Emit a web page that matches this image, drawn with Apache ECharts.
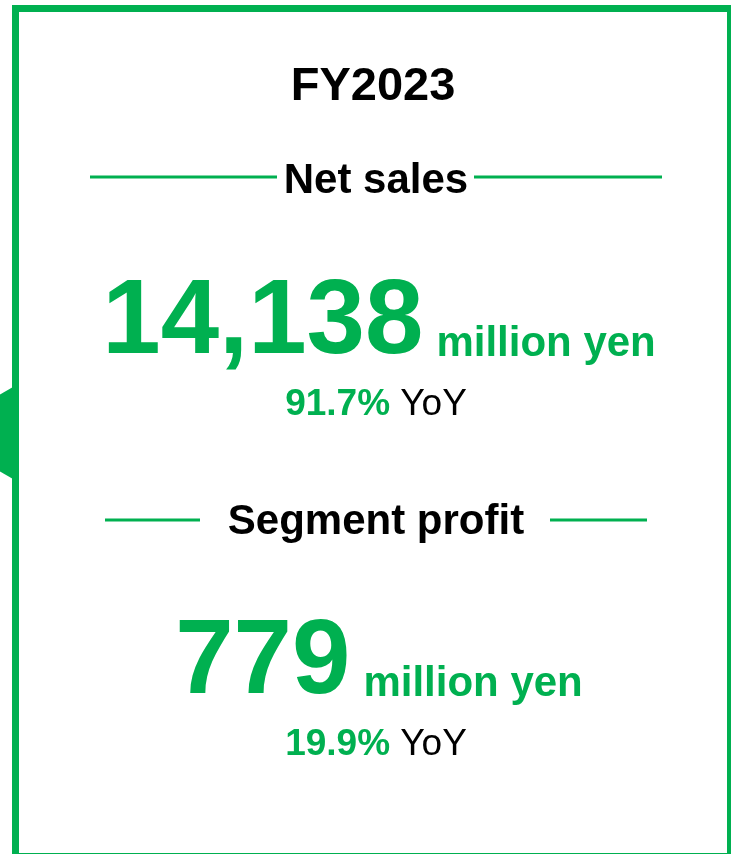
<!DOCTYPE html>
<html>
<head>
<meta charset="utf-8">
<script src="https://cdn.jsdelivr.net/npm/echarts@6/dist/echarts.min.js"></script>
<style>
  html, body { margin: 0; padding: 0; background: #fff; }
  #main { width: 731px; height: 854px; }
</style>
</head>
<body>
<div id="main"></div>
<script>
// 数据
const period = 'FY2023';
const metrics = ['Net sales', 'Segment profit'];
const amounts = [14138, 779];
const yoyRates = [91.7, 19.9];
const unit = 'million yen';

const green = '#00b050';
const font = "'Liberation Sans', Arial, sans-serif";

// 量一下文字宽度, 用来把大数字和单位整体居中
const ctx = document.createElement('canvas').getContext('2d');
function textWidth(str, size, weight) {
  ctx.font = weight + ' ' + size + 'px ' + font;
  return ctx.measureText(str).width;
}

const cx = 376;
// 每个区块的纵向位置
const blocks = [
  { titleY: 181, lineY: 177, lineL: [90, 277], lineR: [474, 662], numY: 324, unitY: 344, yoyY: 405 },
  { titleY: 522, lineY: 520, lineL: [105, 200], lineR: [550, 647], numY: 664, unitY: 684, yoyY: 745 }
];

const elements = [
  // 外框
  {
    type: 'rect',
    shape: { x: 15.5, y: 8.5, width: 715, height: 848 },
    style: { fill: 'none', stroke: green, lineWidth: 7 }
  },
  // 左边的小三角
  {
    type: 'polygon',
    shape: { points: [[13, 387], [-66, 433], [13, 479]] },
    style: { fill: green }
  },
  {
    type: 'text',
    x: cx - 3, y: 87,
    style: { text: period, font: 'bold 47px ' + font, fill: '#000', align: 'center', verticalAlign: 'middle' }
  }
];

metrics.forEach(function (name, i) {
  const b = blocks[i];
  const num = amounts[i].toLocaleString('en-US');
  const numSize = 105, unitSize = 42, gap = 13;
  const w1 = textWidth(num, numSize, 'bold');
  const w2 = textWidth(unit, unitSize, 'bold');
  const start = cx + 3 - (w1 + gap + w2) / 2;

  elements.push(
    {
      type: 'line',
      shape: { x1: b.lineL[0], y1: b.lineY, x2: b.lineL[1], y2: b.lineY },
      style: { stroke: green, lineWidth: 3 }
    },
    {
      type: 'line',
      shape: { x1: b.lineR[0], y1: b.lineY, x2: b.lineR[1], y2: b.lineY },
      style: { stroke: green, lineWidth: 3 }
    },
    {
      type: 'text',
      x: cx, y: b.titleY,
      style: { text: name, font: 'bold 42px ' + font, fill: '#000', align: 'center', verticalAlign: 'middle' }
    },
    {
      type: 'text',
      x: start, y: b.numY,
      style: { text: num, font: 'bold ' + numSize + 'px ' + font, fill: green, align: 'left', verticalAlign: 'middle' }
    },
    {
      type: 'text',
      x: start + w1 + gap, y: b.unitY,
      style: { text: unit, font: 'bold ' + unitSize + 'px ' + font, fill: green, align: 'left', verticalAlign: 'middle' }
    },
    {
      type: 'text',
      x: cx, y: b.yoyY,
      style: {
        text: '{g|' + yoyRates[i].toFixed(1) + '% }{k|YoY}',
        align: 'center',
        verticalAlign: 'middle',
        rich: {
          g: { font: 'bold 37px ' + font, fill: green },
          k: { font: '37px ' + font, fill: '#000' }
        }
      }
    }
  );
});

const chart = echarts.init(document.getElementById('main'));
chart.setOption({
  backgroundColor: '#fff',
  graphic: { elements: elements }
});
</script>
</body>
</html>
